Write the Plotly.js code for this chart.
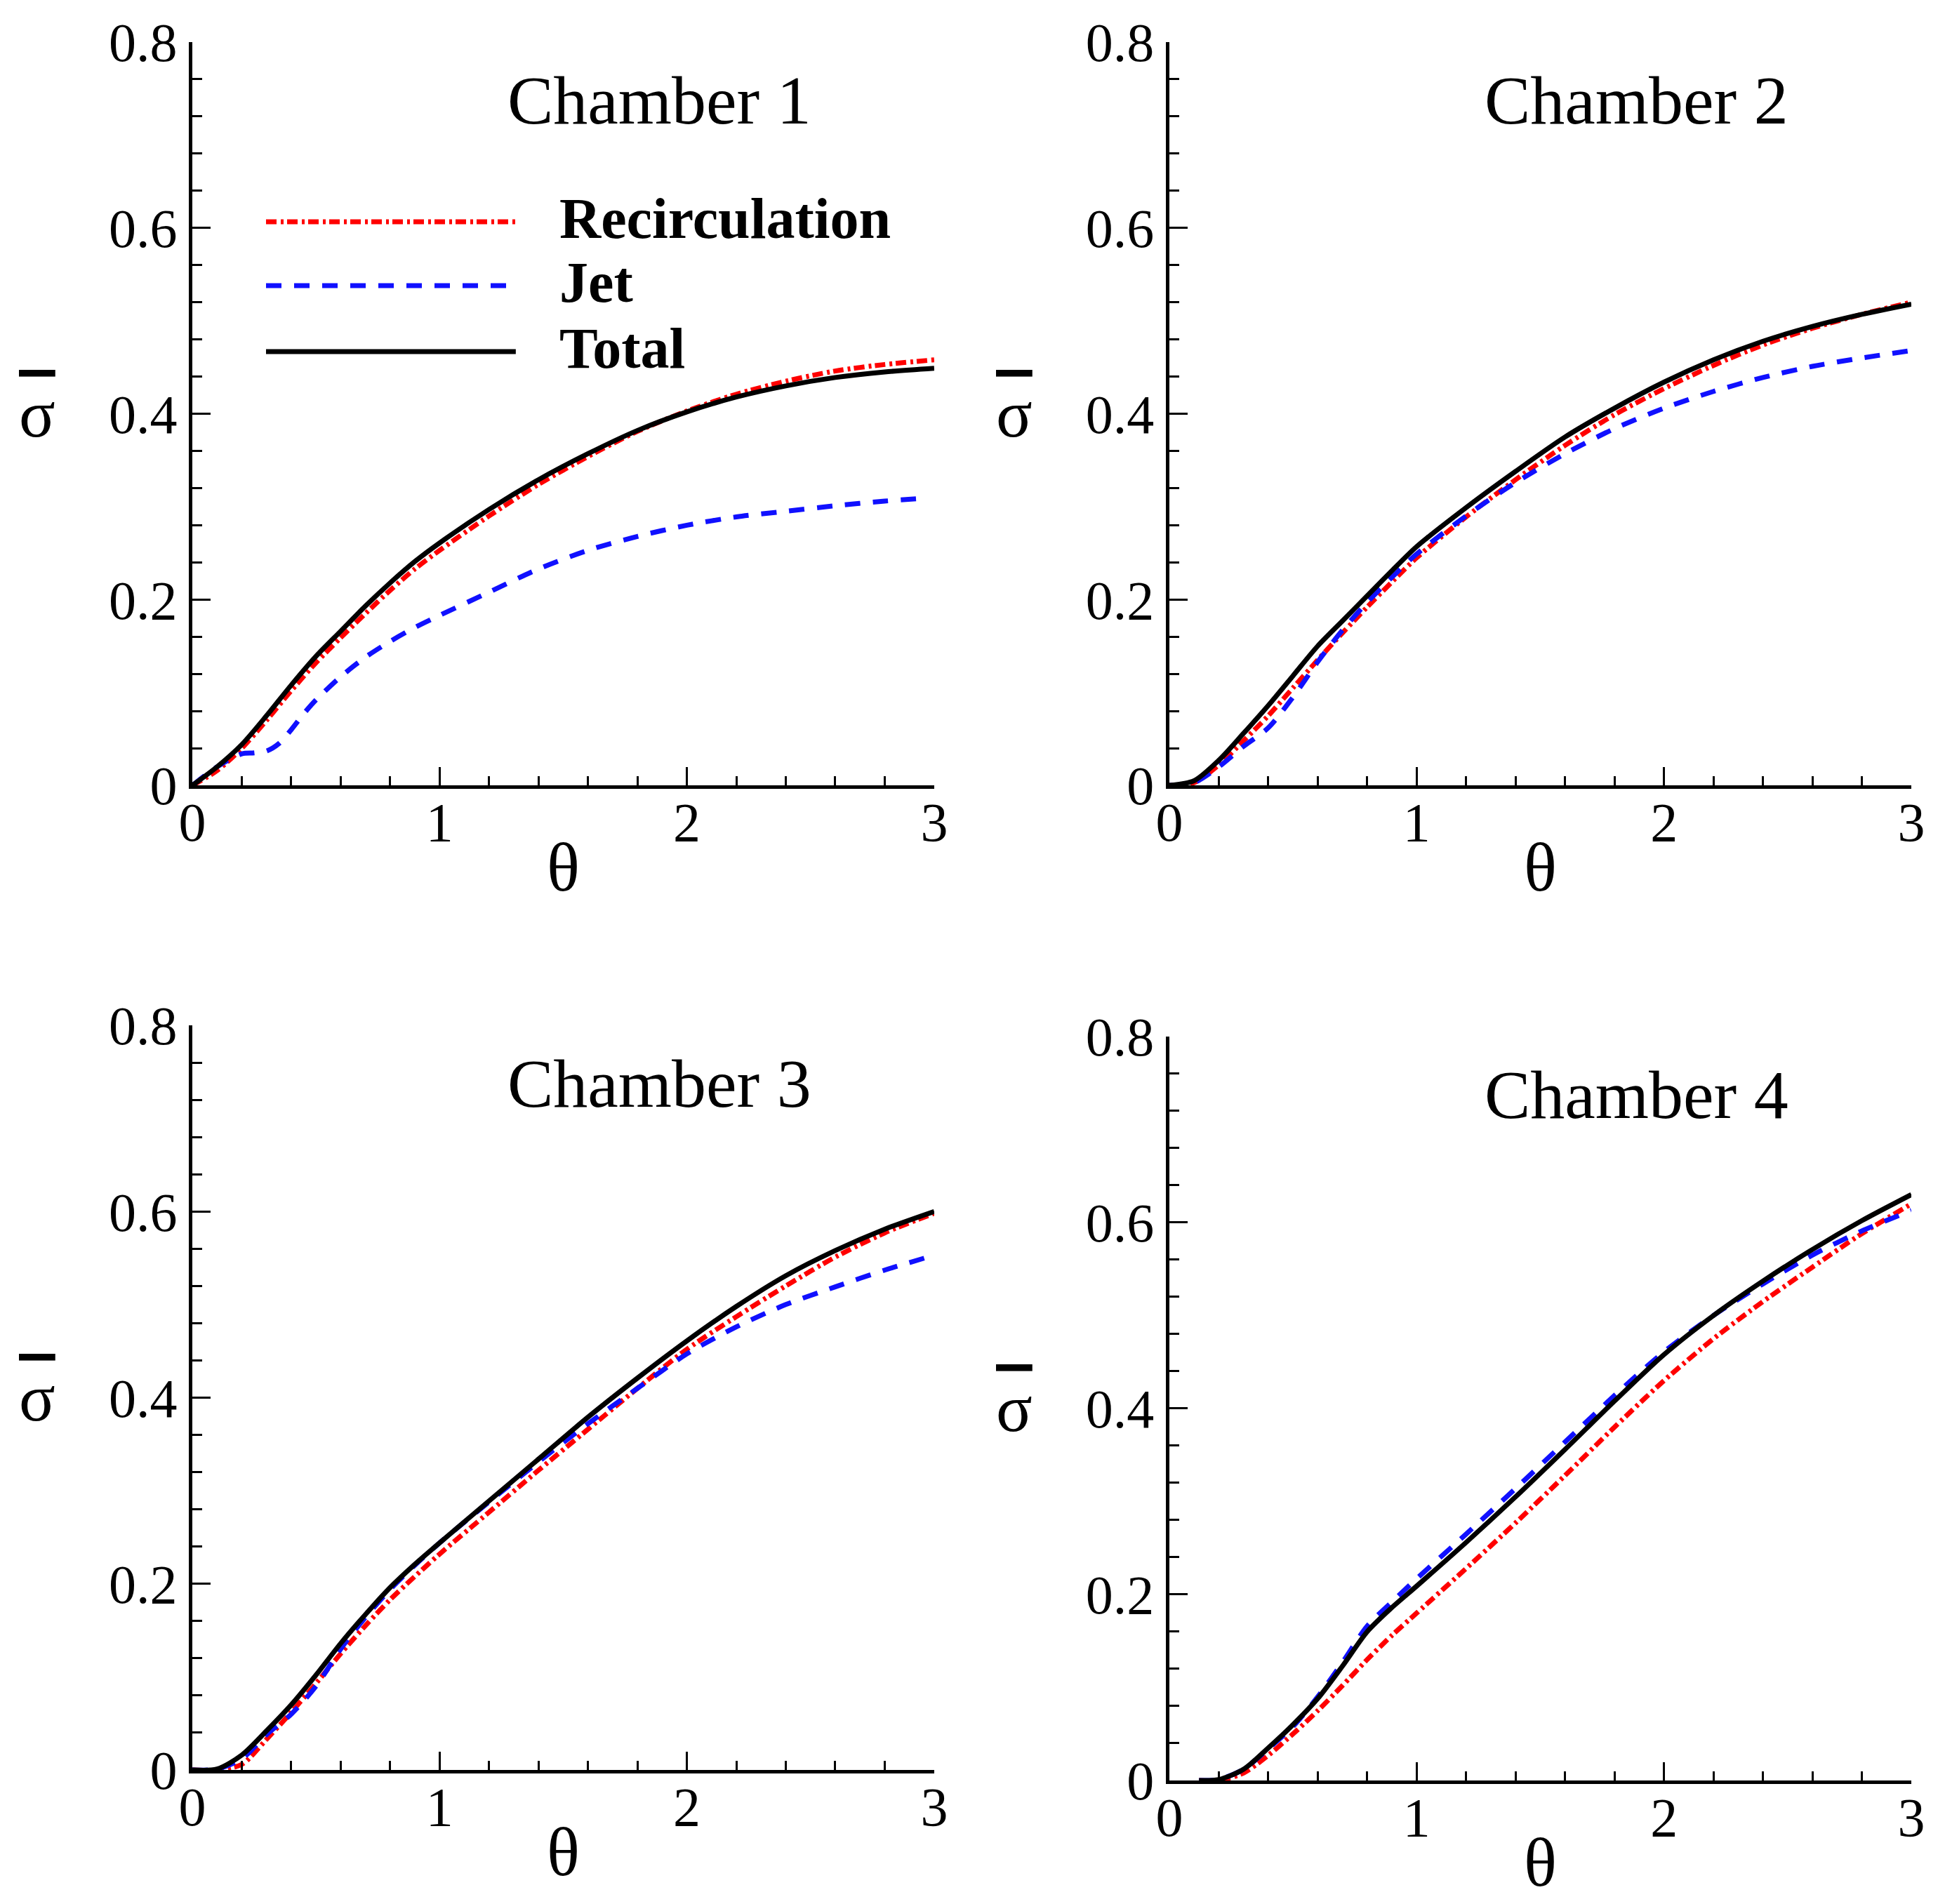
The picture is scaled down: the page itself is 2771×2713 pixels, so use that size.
<!DOCTYPE html>
<html>
<head>
<meta charset="utf-8">
<script src="https://cdn.plot.ly/plotly-3.0.1.min.js"></script>
<style>
  html, body { margin: 0; padding: 0; background: #fff; }
  #chart { width: 2771px; height: 2713px; }
</style>
</head>
<body>
<div id="chart"></div>
<script>
// theta grid shared by most curves
var theta = [0, 0.1, 0.2, 0.3, 0.4, 0.5, 0.6, 0.7, 0.8, 0.9, 1.0, 1.2, 1.4, 1.6, 1.8, 2.0, 2.2, 2.4, 2.6, 2.8, 3.0];
var theta4 = [0.12, 0.2, 0.3, 0.4, 0.5, 0.6, 0.7, 0.8, 0.9, 1.0, 1.2, 1.4, 1.6, 1.8, 2.0, 2.2, 2.4, 2.6, 2.8, 3.0];
var thetaJet1 = [0, 0.1, 0.2, 0.25, 0.3, 0.35, 0.4, 0.45, 0.5, 0.6, 0.7, 0.8, 0.9, 1.0, 1.2, 1.4, 1.6, 1.8, 2.0, 2.2, 2.4, 2.6, 2.8, 2.96];

// chamber 1
var recirc1 = [0, 0.016, 0.04, 0.07, 0.102, 0.132, 0.159, 0.185, 0.21, 0.233, 0.253, 0.29, 0.324, 0.354, 0.381, 0.403, 0.421, 0.435, 0.446, 0.453, 0.458];
var jet1 = [0, 0.02, 0.034, 0.035, 0.037, 0.045, 0.06, 0.077, 0.092, 0.117, 0.138, 0.155, 0.17, 0.183, 0.208, 0.233, 0.253, 0.268, 0.28, 0.289, 0.295, 0.301, 0.306, 0.309];
var total1 = [0, 0.02, 0.044, 0.075, 0.108, 0.139, 0.166, 0.193, 0.218, 0.241, 0.261, 0.297, 0.329, 0.357, 0.382, 0.402, 0.418, 0.43, 0.439, 0.445, 0.449];

// chamber 2
var recirc2 = [0, 0.003, 0.022, 0.048, 0.075, 0.105, 0.135, 0.164, 0.192, 0.219, 0.245, 0.289, 0.329, 0.366, 0.399, 0.427, 0.452, 0.474, 0.492, 0.507, 0.52];
var jet2 = [0, 0.003, 0.02, 0.042, 0.062, 0.095, 0.133, 0.167, 0.197, 0.224, 0.249, 0.29, 0.326, 0.357, 0.384, 0.406, 0.424, 0.439, 0.451, 0.46, 0.468];
var total2 = [0, 0.005, 0.027, 0.056, 0.086, 0.118, 0.15, 0.177, 0.204, 0.231, 0.257, 0.299, 0.338, 0.375, 0.406, 0.434, 0.458, 0.478, 0.494, 0.507, 0.518];

// chamber 3
var recirc3 = [0, 0, 0.006, 0.033, 0.062, 0.093, 0.125, 0.155, 0.183, 0.208, 0.232, 0.277, 0.322, 0.366, 0.41, 0.452, 0.487, 0.52, 0.551, 0.577, 0.598];
var jet3 = [0, 0.001, 0.012, 0.038, 0.06, 0.09, 0.13, 0.164, 0.194, 0.22, 0.244, 0.288, 0.331, 0.372, 0.41, 0.447, 0.476, 0.5, 0.519, 0.537, 0.553];
var total3 = [0, 0.001, 0.016, 0.042, 0.07, 0.102, 0.136, 0.167, 0.196, 0.221, 0.244, 0.289, 0.334, 0.379, 0.421, 0.461, 0.498, 0.531, 0.558, 0.581, 0.6];

// chamber 4
var recirc4 = [0, 0, 0.008, 0.027, 0.05, 0.075, 0.102, 0.13, 0.156, 0.18, 0.228, 0.277, 0.328, 0.38, 0.43, 0.475, 0.515, 0.552, 0.588, 0.62];
var jet4 = [0, 0.001, 0.012, 0.034, 0.058, 0.09, 0.127, 0.166, 0.192, 0.217, 0.265, 0.314, 0.364, 0.414, 0.461, 0.5, 0.534, 0.565, 0.591, 0.613];
var total4 = [0, 0.001, 0.012, 0.035, 0.06, 0.088, 0.123, 0.16, 0.186, 0.209, 0.256, 0.305, 0.356, 0.408, 0.458, 0.5, 0.537, 0.571, 0.602, 0.63];

var chamberNames = ["Chamber 1", "Chamber 2", "Chamber 3", "Chamber 4"];
var seriesNames = ["Recirculation", "Jet", "Total"];

var FONT = "Liberation Serif";
var redDash = "15px,6px,4px,5px";
var blueDash = "22px,18px";
var styles = [
    {color: "#ff0000", width: 7, dash: redDash},
    {color: "#1010ff", width: 7, dash: blueDash},
    {color: "#000000", width: 7, dash: "solid"}
];

var panels = [
    {th: [theta, thetaJet1, theta], ys: [recirc1, jet1, total1]},
    {th: [theta, theta, theta], ys: [recirc2, jet2, total2]},
    {th: [theta, theta, theta], ys: [recirc3, jet3, total3]},
    {th: [theta4, theta4, theta4], ys: [recirc4, jet4, total4]}
];

var data = [];
panels.forEach(function(p, i) {
    var sfx = i === 0 ? "" : String(i + 1);
    for (var k = 0; k < 3; k++) {
        data.push({
            type: "scatter", mode: "lines",
            x: p.th[k], y: p.ys[k],
            name: seriesNames[k],
            xaxis: "x" + sfx, yaxis: "y" + sfx,
            showlegend: false,
            line: {color: styles[k].color, width: styles[k].width, dash: styles[k].dash, shape: "spline", smoothing: 0.8}
        });
    }
});

// axis domains in paper fractions
var xDom = [[0.0989, 0.4803], [0.6012, 0.9827], [0.0989, 0.4803], [0.6012, 0.9827]];
var yDom = [[0.5875, 0.9779], [0.5875, 0.9779], [0.0704, 0.4615], [0.0649, 0.4556]];

function xAxis(i) {
    return {
        domain: xDom[i], range: [0, 3], anchor: "y" + (i === 0 ? "" : i + 1),
        showgrid: false, zeroline: false, showline: true, linecolor: "#000", linewidth: 5,
        ticks: "inside", ticklen: 26, tickwidth: 3, tickcolor: "#000", dtick: 1, tick0: 0,
        minor: {dtick: 0.2, ticks: "inside", ticklen: 13, tickwidth: 3, tickcolor: "#000", showgrid: false},
        tickfont: {family: FONT, size: 78, color: "#000"}, ticklabelstandoff: -20,
        fixedrange: true
    };
}
function yAxis(i) {
    return {
        domain: yDom[i], range: [0, 0.8], anchor: "x" + (i === 0 ? "" : i + 1),
        showgrid: false, zeroline: false, showline: true, linecolor: "#000", linewidth: 5,
        ticks: "inside", ticklen: 26, tickwidth: 3, tickcolor: "#000", dtick: 0.2, tick0: 0,
        minor: {dtick: 0.04, ticks: "inside", ticklen: 14, tickwidth: 3, tickcolor: "#000", showgrid: false},
        tickfont: {family: FONT, size: 78, color: "#000"}, ticklabelstandoff: 1,
        fixedrange: true
    };
}

var annotations = [];
var shapes = [];
for (var i = 0; i < 4; i++) {
    var sfx = i === 0 ? "" : String(i + 1);
    annotations.push({
        text: chamberNames[i], xref: "x" + sfx + " domain", yref: "y" + sfx + " domain",
        x: 0.63, y: 0.922, xanchor: "center", yanchor: "middle", showarrow: false,
        font: {family: FONT, size: 98, color: "#000"}
    });
    annotations.push({
        text: "θ", xref: "x" + sfx + " domain", yref: "y" + sfx + " domain",
        x: 0.5, y: -0.11, xanchor: "center", yanchor: "middle", showarrow: false,
        font: {family: FONT, size: 98, color: "#000"}
    });
    annotations.push({
        text: "<span style='text-decoration:overline'>σ</span>",
        xref: "x" + sfx + " domain", yref: "y" + sfx + " domain",
        x: -0.209, y: 0.5, xanchor: "center", yanchor: "middle", showarrow: false,
        font: {family: FONT, size: 96, color: "#000"}
    });
}

// legend drawn inside chamber 1
var legendRows = [0.7583, 0.6723, 0.5836];
for (var k = 0; k < 3; k++) {
    shapes.push({
        type: "line", xref: "x domain", yref: "y domain",
        x0: 0.0993, x1: 0.436, y0: legendRows[k], y1: legendRows[k],
        line: {color: styles[k].color, width: styles[k].width, dash: styles[k].dash}
    });
    annotations.push({
        text: "<b>" + seriesNames[k] + "</b>", xref: "x domain", yref: "y domain",
        x: 0.4929, y: legendRows[k] + 0.004, xanchor: "left", yanchor: "middle", showarrow: false,
        font: {family: FONT, size: 82, color: "#000"}
    });
}

var layout = {
    width: 2771, height: 2713,
    margin: {l: 0, r: 0, t: 0, b: 0},
    paper_bgcolor: "#fff", plot_bgcolor: "#fff",
    font: {family: FONT, color: "#000"},
    showlegend: false,
    annotations: annotations,
    shapes: shapes
};
for (var i = 0; i < 4; i++) {
    var sfx = i === 0 ? "" : String(i + 1);
    layout["xaxis" + sfx] = xAxis(i);
    layout["yaxis" + sfx] = yAxis(i);
}

Plotly.newPlot("chart", data, layout, {displayModeBar: false, staticPlot: true});
</script>
</body>
</html>
